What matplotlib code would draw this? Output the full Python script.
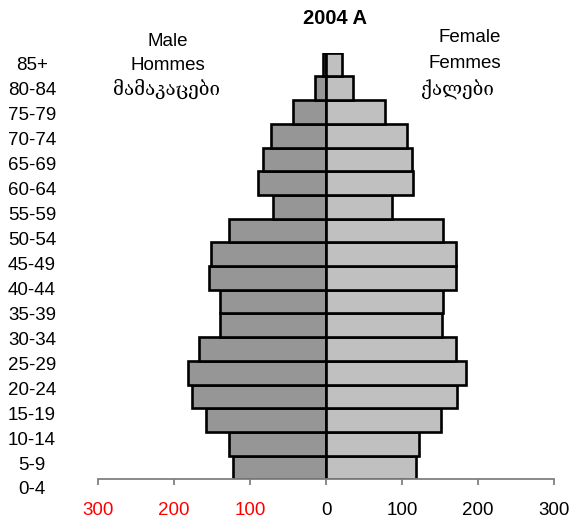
import numpy as np
import matplotlib
matplotlib.use("Agg")
from matplotlib import pyplot as plt

plt.rcParams['font.family'] = ['Liberation Sans', 'DejaVu Serif', 'DejaVu Sans']

# age groups, youngest first
ages = ['0-4', '5-9', '10-14', '15-19', '20-24', '25-29', '30-34', '35-39',
        '40-44', '45-49', '50-54', '55-59', '60-64', '65-69', '70-74',
        '75-79', '80-84', '85+']
male = [123, 128, 158, 176, 182, 167, 140, 140, 154, 151, 128, 70, 89, 83,
        72, 43, 14, 4]
female = [118, 123, 151, 172, 184, 171, 152, 154, 171, 171, 154, 87, 115, 113,
          106, 78, 36, 21]
xticks = [-300, -200, -100, 0, 100, 200, 300]

W, H = 576, 524
fig = plt.figure(figsize=(W / 100, H / 100), dpi=100)
ax = fig.add_axes([98 / W, 1 - 479.3 / H, 456 / W, (479.3 - 52.7) / H])

y = np.arange(len(ages))
ax.barh(y, -np.array(male), height=1.0, color='#969696',
        edgecolor='black', linewidth=1.9)
ax.barh(y, female, height=1.0, color='#C0C0C0',
        edgecolor='black', linewidth=1.9)

ax.set_xlim(-300, 300)
ax.set_ylim(-0.5, len(ages) - 0.5)
ax.set_yticks([])
for s in ['left', 'right', 'top']:
    ax.spines[s].set_visible(False)
ax.spines['bottom'].set_color('#808080')
ax.spines['bottom'].set_linewidth(1.3)
ax.set_xticks(xticks)
ax.set_xticklabels([str(abs(v)) for v in xticks], fontsize=13.5)
ax.tick_params(axis='x', direction='out', length=4, width=1.3,
               color='#808080', pad=12)
for lab, v in zip(ax.get_xticklabels(), xticks):
    lab.set_color('red' if v < 0 else 'black')

# age labels as a separate text column on the left
pitch = (490 - 66) / (len(ages) - 1)
for i, a in enumerate(ages[::-1]):
    fig.text(32 / W, 1 - (66 + i * pitch) / H, a, ha='center', va='center',
             fontsize=13.5)

fig.text(335 / W, 1 - 18 / H, '2004 A', ha='center', va='center',
         fontsize=14.5, fontweight='bold')
for txt, xp, yp in [('Male', 168, 41), ('Hommes', 168, 66),
                    ('მამაკაცები', 167, 89),
                    ('Female', 470, 37), ('Femmes', 465, 63),
                    ('ქალები', 457, 90)]:
    fig.text(xp / W, 1 - yp / H, txt, ha='center', va='center', fontsize=13.5)

fig.savefig('out.png', dpi=100)
